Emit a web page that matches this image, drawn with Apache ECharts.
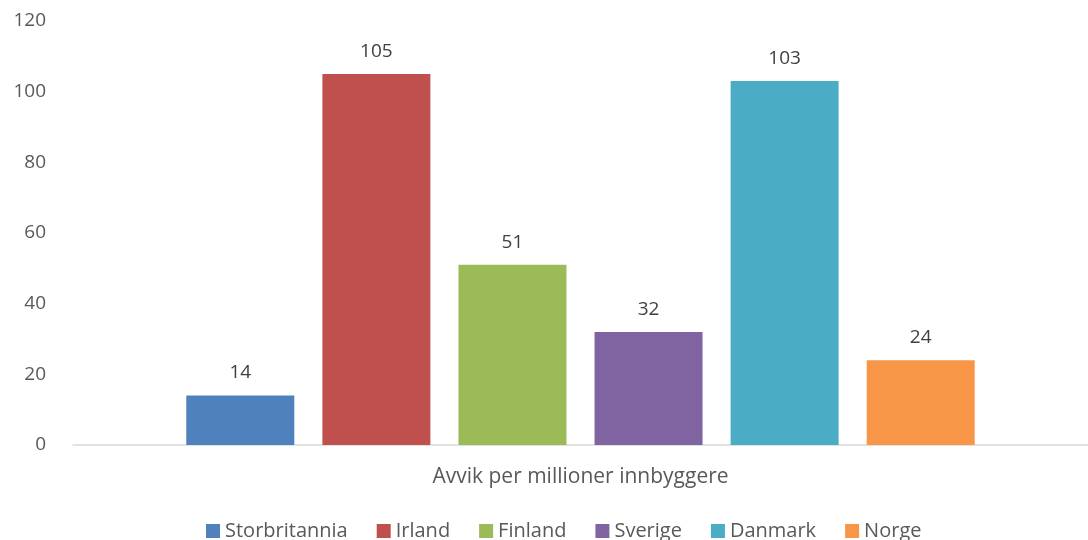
<!DOCTYPE html>
<html>
<head>
<meta charset="utf-8">
<script src="https://cdn.jsdelivr.net/npm/echarts@6/dist/echarts.min.js"></script>
<style>
  html, body { margin: 0; padding: 0; background: #fff; }
  #container { width: 1088px; height: 540px; }
</style>
</head>
<body>
<div id="container"></div>
<script>
const categories = ["Avvik per millioner innbyggere"];
const countries = ["Storbritannia", "Irland", "Finland", "Sverige", "Danmark", "Norge"];
const values = [14, 105, 51, 32, 103, 24];
const colors = ["#4F81BD", "#C0504D", "#9BBB59", "#8064A2", "#4BACC6", "#F79646"];

const textColor = "#595959";
const font = "'Open Sans', 'Liberation Sans', sans-serif";

let chart = echarts.init(document.getElementById("container"));

let series = countries.map(function (name, i) {
  return {
    name: name,
    type: "bar",
    data: [values[i]],
    barWidth: 108,
    barGap: "26%",
    itemStyle: { color: colors[i] },
    label: {
      show: true,
      position: "top",
      distance: 13,
      color: "#404040",
      fontSize: 19,
      fontFamily: font,
    },
  };
});

let option = {
  animation: false,
  textStyle: { fontFamily: font },
  legend: {
    data: countries,
    bottom: -6,
    left: 201,
    itemWidth: 14,
    itemHeight: 14,
    itemGap: 29,
    icon: "rect",
    textStyle: { color: textColor, fontSize: 20, fontFamily: font },
  },
  grid: {
    left: 73,
    right: 0,
    top: 21,
    bottom: 95,
  },
  xAxis: {
    type: "category",
    data: categories,
    axisLine: { lineStyle: { color: "#D9D9D9", width: 1.5 } },
    axisTick: { show: false },
    axisLabel: { color: textColor, fontSize: 21, margin: 22, fontFamily: font },
  },
  yAxis: {
    type: "value",
    min: 0,
    max: 120,
    interval: 20,
    axisLine: { show: false },
    axisTick: { show: false },
    splitLine: { show: false },
    axisLabel: { color: textColor, fontSize: 19, margin: 27, fontFamily: font },
  },
  series: series,
};
chart.setOption(option);
</script>
</body>
</html>
